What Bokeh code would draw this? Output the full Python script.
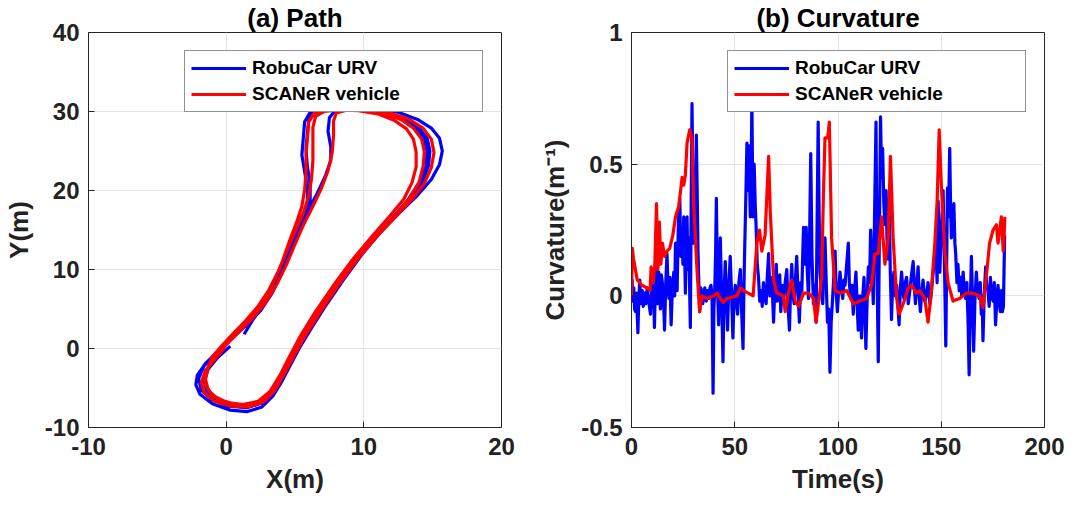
from bokeh.plotting import figure
from bokeh.layouts import row
from bokeh.models import Legend, LegendItem, Range1d, FixedTicker
from bokeh.embed import file_html
from bokeh.resources import INLINE

# ---------------- data ----------------
series_names = ["RobuCar URV", "SCANeR vehicle"]

# (a) Path : RobuCar URV (blue), three laps
blue_x = [0.3, -0.6, -1.3, -1.6, -1.4, -0.6, 0.6, 1.8, 2.8, 3.6, 4.3, 5.0, 5.9, 7.0, 8.3, 9.7, 11.1, 12.4, 13.5, 14.3,
          14.7, 14.8, 14.6, 14.0, 13.0, 11.7, 10.2, 8.8, 7.9, 7.5, 7.4, 7.6, 7.6, 7.2, 6.6, 5.9, 5.2, 4.6, 4.0, 3.3,
          2.4, 1.4, 0.3, -0.7,
          -1.6, -2.0, -1.8, -1.0, 0.2, 1.5, 2.6, 3.4, 4.1, 4.8, 5.6, 6.7, 8.0, 9.4, 10.8, 12.1, 13.2, 14.0, 14.5, 14.6,
          14.4, 13.8, 12.8, 11.4, 9.9, 8.4, 7.2, 6.4, 6.0, 5.9, 5.8, 5.9, 6.1, 6.1, 5.8, 5.2, 4.6, 4.0, 3.3, 2.5,
          1.5, 0.5, -0.5,
          -1.5, -2.1, -2.2, -1.9, -1.0, 0.3, 1.5, 2.6, 3.4, 4.0, 4.6, 5.3, 6.2, 7.3, 8.6, 9.9, 11.2, 12.6, 13.9, 14.9,
          15.5, 15.7, 15.5, 14.9, 13.9, 12.5, 10.9, 9.3, 7.9, 6.8, 6.1, 5.7, 5.6, 5.5, 5.7, 5.9, 5.9, 5.6, 5.0, 4.5,
          4.0, 3.5, 2.8, 2.0, 1.3]
blue_y = [0.3, -1.1, -2.6, -4.1, -5.5, -6.6, -7.3, -7.3, -6.6, -5.0, -2.9, -0.6, 2.0, 5.0, 8.3, 11.6, 14.5, 17.0, 19.2, 21.2,
          23.2, 25.0, 26.6, 27.9, 29.0, 29.8, 30.3, 30.4, 30.1, 29.2, 27.5, 25.5, 23.8, 21.8, 19.6, 17.3, 14.9, 12.4, 9.9, 7.4,
          5.1, 3.0, 1.1, -0.6,
          -2.2, -3.8, -5.3, -6.5, -7.3, -7.5, -6.9, -5.5, -3.5, -1.2, 1.3, 4.3, 7.7, 11.0, 14.0, 16.6, 18.8, 20.9, 23.0, 24.9,
          26.5, 27.9, 29.0, 29.8, 30.3, 30.5, 30.4, 30.0, 29.0, 27.2, 25.2, 23.0, 20.8, 18.6, 16.6, 14.5, 12.0, 9.4, 6.9, 4.8,
          3.0, 1.4, -0.2,
          -1.9, -3.4, -4.6, -5.8, -7.0, -7.8, -8.0, -7.4, -6.0, -4.3, -2.3, 0.0, 2.6, 5.6, 8.9, 12.0, 14.7, 17.2, 19.4, 21.4,
          23.3, 25.0, 26.6, 27.9, 29.0, 29.9, 30.4, 30.6, 30.6, 30.4, 29.9, 28.7, 26.6, 24.5, 22.4, 20.3, 18.2, 16.3, 14.8, 12.8,
          10.4, 8.0, 5.8, 3.8, 1.8]

# (a) Path : SCANeR vehicle (red), three laps
red_x = [-0.1, -0.8, -1.5, -1.8, -1.6, -0.8, 0.4, 1.6, 2.7, 3.5, 4.2, 4.9, 5.7, 6.8, 8.1, 9.5, 10.9, 12.3, 13.5, 14.4,
         14.9, 15.1, 14.9, 14.3, 13.3, 11.9, 10.3, 8.7, 7.3, 6.4, 6.0, 5.9, 5.8, 5.8, 5.7, 5.5, 5.1, 4.6, 4.1, 3.5,
         2.8, 1.8, 0.8, -0.2, -1.0,
         -1.3, -1.5, -1.3, -0.6, 0.5, 1.7, 2.7, 3.5, 4.2, 4.9, 5.8, 6.9, 8.2, 9.6, 11.0, 12.3, 13.3, 14.0, 14.3, 14.4,
         14.2, 13.6, 12.7, 11.4, 10.0, 8.8, 8.0, 7.8, 7.8, 7.7, 7.4, 6.9, 6.3, 5.6, 5.0, 4.4, 3.7, 2.9, 1.9, 0.8,
         -0.2, -1.0,
         -1.5, -1.5, -1.0, 0.0, 1.2, 2.3, 3.2, 3.9, 4.6, 5.4, 6.5, 7.8, 9.2, 10.6, 11.9, 12.9, 13.5, 13.8, 13.8, 13.6,
         13.1, 12.2, 11.0, 9.6, 8.2, 7.1, 6.5, 6.3, 6.3, 6.3, 6.2, 6.0, 5.6, 5.0, 4.4, 3.8, 3.1, 2.3, 1.3, 0.3,
         -0.6]
red_y = [0.1, -1.3, -2.8, -4.3, -5.6, -6.7, -7.3, -7.4, -6.8, -5.4, -3.3, -1.0, 1.5, 4.5, 7.9, 11.2, 14.1, 16.7, 18.9, 20.9,
         22.9, 24.8, 26.5, 27.9, 29.0, 29.8, 30.2, 30.3, 30.2, 29.8, 28.7, 26.6, 24.4, 22.2, 20.1, 18.0, 15.9, 13.6, 11.1, 8.6,
         6.2, 4.0, 2.2, 0.5, -1.0,
         -2.3, -3.9, -5.3, -6.4, -7.0, -7.1, -6.4, -4.9, -2.8, -0.5, 2.1, 5.1, 8.4, 11.6, 14.4, 16.9, 19.0, 21.0, 23.0, 24.9,
         26.5, 27.9, 29.0, 29.8, 30.2, 30.2, 29.8, 28.8, 27.0, 24.8, 22.5, 20.2, 18.0, 15.6, 13.2, 10.7, 8.2, 5.9, 3.8, 1.9,
         0.1, -1.5,
         -3.1, -4.6, -5.9, -6.8, -7.1, -6.7, -5.4, -3.4, -1.0, 1.6, 4.7, 8.0, 11.3, 14.2, 16.8, 18.9, 21.0, 23.0, 24.9, 26.5,
         27.8, 28.9, 29.7, 30.1, 30.2, 30.0, 29.4, 28.0, 26.0, 23.8, 21.5, 19.3, 17.1, 14.8, 12.3, 9.8, 7.4, 5.3, 3.3, 1.5,
         -0.2]

# (b) Curvature : RobuCar URV (blue)
t_blue = [0, 0.3, 0.7, 1.1, 1.5, 1.9, 2.4, 3.1, 3.5, 4.0, 4.4, 4.7, 5.2, 5.7, 6.3, 6.9, 7.6, 8.3, 9.2, 9.8,
          10.5, 11.1, 11.6, 12.1, 12.6, 13.2, 13.6, 14.0, 14.4, 14.8, 15.4, 16.0, 16.6, 17.2, 17.7, 18.1, 18.6, 19.2, 19.8,
          20.5, 20.9, 21.3, 21.7, 22.1, 22.7, 23.4, 23.9, 24.5, 24.9, 25.3, 25.7, 26.1, 26.5, 26.9, 27.3, 27.7, 28.1, 28.5, 28.9,
          29.3, 29.7, 30.1, 30.5, 31.0, 31.4, 31.8, 32.2, 32.6, 33.0,
          33.5, 34.0, 34.5, 34.9, 35.5, 36.2, 36.8, 37.4, 38.0, 38.5, 39.0, 39.5, 39.9, 40.3, 40.7, 41.1, 41.6, 42.2, 42.6, 43.0,
          43.5, 43.9, 44.3, 44.8, 45.4, 45.9, 46.5, 47.1, 47.8, 48.4, 49.1, 49.7, 50.3, 50.8, 51.4, 52.0, 52.7, 53.3, 54.0, 54.6,
          55.3, 55.9, 56.4, 56.9, 57.5, 57.9, 58.3, 58.8, 59.4, 59.9, 60.4, 60.9, 61.5,
          62.1, 62.7, 63.3, 63.9, 64.5, 65.2, 65.8, 66.4, 67.0, 67.5, 68.2, 68.8, 69.4, 70.1, 70.6, 71.2, 71.8, 72.3, 73.0, 73.6,
          74.4, 75.2, 75.8, 76.5, 77.0, 77.6, 78.2, 78.8, 79.4, 80.0, 80.6, 81.3, 81.9, 82.5, 82.9, 83.3, 83.9, 84.6, 85.1, 85.7,
          86.2, 86.8, 87.4, 88.1, 88.7, 89.4, 89.9, 90.4, 90.8, 91.3, 91.9, 92.6, 93.1, 93.7, 94.3, 94.9, 95.5, 96.1, 96.7,
          97.4, 98.0, 98.6, 99.1, 99.7, 100.4, 101.0, 101.7, 102.3, 102.9, 103.4, 104.2, 105.0, 105.5, 106.1, 106.8, 107.4, 108.0, 108.7, 109.2,
          109.8, 110.6, 111.4, 112.0, 112.6, 113.0, 113.5, 114.1, 114.7, 115.3, 115.8, 116.5, 117.1,
          117.7, 118.4, 118.9, 119.5, 120.0, 120.6, 121.1, 121.6, 122.2, 122.7, 123.3, 123.9, 124.4, 124.8, 125.3, 125.9, 126.5, 127.1,
          127.8, 128.4, 129.0, 129.6, 130.2, 130.8, 131.4, 131.9, 132.6, 133.2, 134.0, 134.8, 135.6, 136.4, 137.0, 137.5, 138.2, 138.8, 139.3, 139.9,
          140.6, 141.2, 142.0, 142.8, 143.6, 144.5, 145.3, 146.1,
          146.8, 147.4, 148.0, 148.5, 149.3, 150.1, 150.9, 151.6, 152.2, 152.6, 153.0, 153.5, 154.1, 154.5, 154.9, 155.5, 156.1, 156.6, 157.0,
          157.6, 158.1, 158.7, 159.3, 159.9, 160.6, 161.2, 161.8, 162.4, 163.0, 163.5, 164.0, 164.6, 165.1, 165.7, 166.3, 167.0, 167.6, 168.3, 168.9,
          169.4, 169.8, 170.2, 170.8, 171.5, 172.0, 172.6, 173.2, 173.8, 174.4, 175.1, 175.7, 176.3, 176.9, 177.5, 178.0, 178.6, 179.1, 179.6, 180.1,
          180.7]
k_blue = [0.0, 0.06, -0.02, 0.03, -0.05, -0.06, 0.01, -0.14, -0.02, 0.06, -0.03, 0.0, 0.02, -0.04, 0.01, -0.03, 0.03, -0.02, -0.07, 0.04,
          0.10, -0.12, 0.05, 0.15, -0.03, 0.09, 0.02, -0.05, 0.08, 0.06, 0.01, -0.13, 0.05, 0.16, 0.03, -0.01, 0.07, -0.11, 0.03,
          0.09, 0.0, 0.20, 0.08, 0.02, 0.28, 0.37, 0.15, 0.22, 0.12, 0.30, 0.18, 0.01, 0.20, 0.30, 0.10, 0.22, 0.05, -0.12, 0.35,
          0.73, 0.45, 0.20, 0.45, 0.30, 0.61, 0.40, 0.17, 0.05, -0.06,
          0.03, 0.02, -0.03, 0.0, 0.03, -0.02, 0.02, -0.01, 0.03, 0.04, 0.0, -0.37, -0.05, 0.02, 0.15, 0.37, 0.05, -0.11, 0.08, 0.22,
          0.05, -0.10, -0.25, 0.0, 0.13, 0.02, -0.13, 0.03, 0.15, 0.02, -0.16, 0.0, 0.04, -0.02, -0.07, 0.05, 0.10, -0.05, -0.20, 0.10,
          0.35, 0.58, 0.40, 0.57, 0.30, 0.45, 0.74, 0.30, 0.50, 0.35, 0.25, 0.12, 0.07,
          -0.02, 0.02, -0.04, 0.05, 0.0, -0.03, 0.08, 0.16, 0.0, 0.07, 0.02, -0.10, 0.03, 0.12, -0.02, 0.02, 0.08, -0.06, 0.04, -0.03,
          0.05, 0.10, -0.04, -0.13, 0.02, 0.12, 0.0, -0.03, 0.06, 0.15, 0.02, -0.10, 0.05, 0.02, 0.15, 0.26, 0.12, 0.26, 0.10, -0.01,
          0.20, 0.54, 0.15, -0.03, 0.04, -0.10, 0.30, 0.66, 0.35, 0.09, 0.03, -0.03, 0.10, 0.22, 0.05, -0.10, -0.05, -0.29, -0.10,
          -0.01, 0.08, 0.17, 0.02, -0.06, 0.03, 0.09, 0.02, -0.01, 0.06, 0.04, 0.12, 0.20, 0.05, -0.01, 0.04, -0.07, 0.02, 0.09, -0.02,
          -0.13, 0.0, -0.16, 0.0, 0.07, -0.05, -0.20, -0.02, 0.11, 0.05, 0.25, 0.10, -0.03,
          0.30, 0.66, 0.10, -0.25, 0.20, 0.68, 0.45, 0.56, 0.35, 0.27, 0.40, 0.14, 0.25, 0.37, 0.10, -0.09, 0.05, 0.09,
          0.0, 0.04, -0.04, -0.11, 0.03, 0.09, 0.02, -0.01, 0.05, 0.07, -0.03, 0.02, 0.08, 0.13, 0.03, -0.03, 0.05, 0.11, 0.0, -0.06,
          0.02, 0.06, -0.02, 0.0, 0.05, -0.03, 0.02, 0.09,
          0.15, 0.20, 0.05, 0.36, 0.09, 0.25, 0.40, 0.10, -0.19, 0.10, 0.41, 0.30, 0.56, 0.35, 0.22, 0.30, 0.35, 0.20, 0.16,
          0.05, 0.12, 0.02, 0.07, 0.0, 0.09, 0.02, -0.01, 0.05, -0.10, -0.30, -0.05, 0.15, 0.0, -0.21, -0.02, 0.09, 0.02, -0.01, 0.05,
          -0.07, 0.0, -0.17, 0.0, 0.11, 0.04, 0.02, -0.04, 0.07, 0.0, -0.02, 0.05, -0.11, -0.02, 0.04, -0.02, -0.06, 0.02, -0.06, -0.04,
          0.23]

# (b) Curvature : SCANeR vehicle (red)
t_red = [0, 0.4, 1.0, 2.8, 5.0, 7.5, 9.0, 9.5, 10.5, 11.3, 12.1, 12.8, 13.5, 14.2, 15.0, 16.0, 17.2, 18.5, 20.0, 21.3,
         22.9, 24.5, 25.3, 26.1, 26.9, 28.2, 29.3, 30.1, 31.7, 33.0, 34.1, 36.5, 39.8, 41.4, 44.3, 46.2, 51.1, 52.7, 54.3, 58.9,
         60.7, 62.0, 63.1, 64.7, 66.4, 67.2, 68.8, 70.4, 73.6, 74.4, 76.0, 77.6, 79.2, 80.9, 83.3, 85.7, 88.1, 89.4, 90.5, 92.1,
         92.9, 93.7, 95.0, 95.8, 96.9, 98.6, 101.0, 104.2, 107.4, 110.6, 113.9, 116.3, 117.9, 119.5, 121.1, 122.7, 124.3, 125.4, 126.7, 128.4,
         129.6, 131.6, 134.0, 135.6, 138.0, 139.6, 142.0, 143.6, 144.9, 146.9, 148.0, 149.0, 150.1, 151.7, 153.3, 155.7, 158.9, 162.1, 165.3, 168.5,
         170.2, 171.8, 173.4, 175.1, 176.7, 177.5, 178.3, 179.1, 180.0, 180.4, 180.8]
k_red = [0.0, 0.18, 0.14, 0.06, 0.04, 0.03, 0.02, 0.11, 0.05, 0.12, 0.35, 0.10, 0.28, 0.12, 0.20, 0.15, 0.17, 0.18, 0.23, 0.30,
         0.34, 0.45, 0.42, 0.46, 0.58, 0.63, 0.60, 0.35, 0.10, -0.06, 0.0, -0.01, 0.0, 0.01, -0.025, -0.01, 0.0, 0.03, 0.02, 0.0,
         0.20, 0.25, 0.17, 0.23, 0.53, 0.32, 0.06, 0.01, 0.0, -0.06, 0.01, 0.06, -0.02, -0.04, 0.01, 0.01, -0.01, -0.10, -0.03, 0.07,
         0.37, 0.60, 0.60, 0.66, 0.22, 0.02, 0.01, 0.02, -0.03, -0.02, -0.01, 0.045, 0.16, 0.16, 0.30, 0.12, 0.22, 0.53, 0.22, -0.01,
         -0.07, -0.03, 0.03, 0.04, 0.01, 0.02, -0.01, -0.10, -0.01, 0.20, 0.36, 0.63, 0.41, 0.17, 0.05, -0.02, -0.01, 0.01, 0.01, 0.0,
         -0.045, 0.07, 0.20, 0.25, 0.27, 0.20, 0.25, 0.30, 0.17, 0.22, 0.30]

path_xticks = [-10, 0, 10, 20]
path_yticks = [-10, 0, 10, 20, 30, 40]
time_ticks = [0, 50, 100, 150, 200]
curv_ticks = [-0.5, 0, 0.5, 1]
curv_labels = ["-0.5", "0", "0.5", "1"]

# ---------------- styling ----------------
FONT = "Liberation Sans"
DARK = "#262626"
GRID = "#e3e3e3"
BLUE = "#0000ff"
RED = "#ff0000"


def style(p, xt, xl, yt, yl, xlabel, ylabel):
    p.title.align = "center"
    p.title.text_font = FONT
    p.title.text_font_size = "26px"
    p.title.text_font_style = "bold"
    p.title.text_color = "#000000"
    p.title.standoff = 0
    p.outline_line_color = DARK
    p.outline_line_width = 1
    p.outline_line_alpha = 1
    for ax, ticks, labels, lab in ((p.xaxis[0], xt, xl, xlabel), (p.yaxis[0], yt, yl, ylabel)):
        ax.ticker = FixedTicker(ticks=ticks)
        ax.major_label_overrides = {t: s for t, s in zip(ticks, labels)}
        ax.axis_label = lab
        ax.axis_label_text_font = FONT
        ax.axis_label_text_font_size = "26px"
        ax.axis_label_text_font_style = "bold"
        ax.axis_label_text_color = "#222222"
        ax.major_label_text_font = FONT
        ax.major_label_text_font_size = "24px"
        ax.major_label_text_font_style = "bold"
        ax.major_label_text_color = "#222222"
        ax.axis_line_color = DARK
        ax.major_tick_line_color = DARK
        ax.major_tick_in = 6
        ax.major_tick_out = 0
        ax.minor_tick_line_color = None
    p.xaxis[0].major_label_standoff = 10
    p.yaxis[0].major_label_standoff = 9
    p.xaxis[0].axis_label_standoff = 6
    p.yaxis[0].axis_label_standoff = 8
    p.xgrid.ticker = FixedTicker(ticks=xt)
    p.ygrid.ticker = FixedTicker(ticks=yt)
    for g in (p.xgrid[0], p.ygrid[0]):
        g.grid_line_color = GRID
        g.grid_line_width = 1
    p.background_fill_color = "white"
    p.border_fill_color = "white"


def add_legend(p, rb, rr):
    leg = Legend(items=[LegendItem(label=series_names[0], renderers=[rb]),
                        LegendItem(label=series_names[1], renderers=[rr])],
                 location="top_right", margin=18, padding=6, spacing=4,
                 glyph_width=55, glyph_height=20, label_height=20, label_width=224,
                 label_standoff=6, label_text_font=FONT, label_text_font_size="19px",
                 label_text_font_style="bold", label_text_color="#000000",
                 border_line_color=DARK, border_line_width=1, background_fill_alpha=1)
    p.add_layout(leg)


p1 = figure(title="(a) Path", x_range=Range1d(-10, 20), y_range=Range1d(-10, 40),
            frame_width=413, frame_height=395, min_border_left=84, min_border_right=35,
            min_border_top=27, min_border_bottom=72,
            output_backend="svg", toolbar_location=None)
style(p1, path_xticks, [str(v) for v in path_xticks], path_yticks, [str(v) for v in path_yticks], "X(m)", "Y(m)")
rb1 = p1.line(blue_x, blue_y, line_color=BLUE, line_width=3.2, line_join="round")
rr1 = p1.line(red_x, red_y, line_color=RED, line_width=3.2, line_join="round")
add_legend(p1, rb1, rr1)

p2 = figure(title="(b) Curvature", x_range=Range1d(0, 200), y_range=Range1d(-0.5, 1),
            frame_width=413, frame_height=395, min_border_left=95, min_border_right=22,
            min_border_top=27, min_border_bottom=72,
            output_backend="svg", toolbar_location=None)
style(p2, time_ticks, [str(v) for v in time_ticks], curv_ticks, curv_labels, "Time(s)", "Curvature(m\u207b\u00b9)")
rb2 = p2.line(t_blue, k_blue, line_color=BLUE, line_width=3.2, line_join="round")
rr2 = p2.line(t_red, k_red, line_color=RED, line_width=3.2, line_join="round")
add_legend(p2, rb2, rr2)

layout = row(p1, p2)
open("out.html", "w").write(file_html(layout, INLINE))
